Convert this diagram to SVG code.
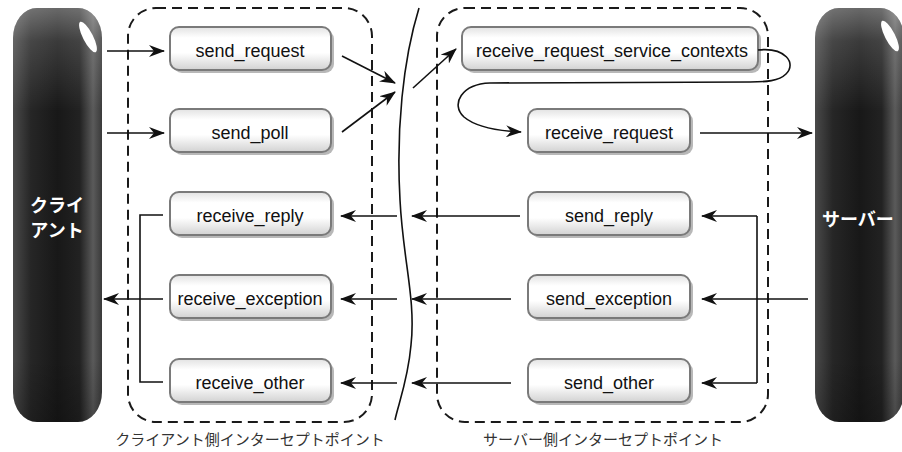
<svg xmlns="http://www.w3.org/2000/svg" width="902" height="452" viewBox="0 0 902 452">
<style>
.node-box{fill:url(#nodeGrad);stroke:#7a7a7a;stroke-width:2}
.node-shadow{fill:#9a9a9a;opacity:0.7}
.node-text{font-family:"Liberation Sans",Arial,sans-serif;font-size:18px;fill:#111;text-anchor:middle}
.dash{fill:none;stroke:#1a1a1a;stroke-width:2;stroke-dasharray:10 6}
.conn{fill:none;stroke:#111;stroke-width:1.6}
.arr{marker-end:url(#ah)}
.cap{font-family:"Liberation Sans","Noto Sans CJK JP",sans-serif;font-size:15px;fill:#333;text-anchor:middle}
.actor-text{font-family:"Liberation Sans","Noto Sans CJK JP",sans-serif;font-size:18px;font-weight:bold;fill:#fff}
</style>
<defs>
<linearGradient id="nodeGrad" x1="0" y1="0" x2="0" y2="1">
<stop offset="0" stop-color="#e2e2e2"/>
<stop offset="0.25" stop-color="#ffffff"/>
<stop offset="0.6" stop-color="#ffffff"/>
<stop offset="1" stop-color="#d2d2d2"/>
</linearGradient>
<linearGradient id="cylH" x1="0" y1="0" x2="1" y2="0">
<stop offset="0" stop-color="#4a4a4a"/>
<stop offset="0.2" stop-color="#262626"/>
<stop offset="0.5" stop-color="#181818"/>
<stop offset="0.75" stop-color="#222"/>
<stop offset="0.9" stop-color="#5a5a5a"/>
<stop offset="1" stop-color="#3a3a3a"/>
</linearGradient>
<linearGradient id="cylV" x1="0" y1="0" x2="0" y2="1">
<stop offset="0" stop-color="#fff" stop-opacity="0.35"/>
<stop offset="0.08" stop-color="#fff" stop-opacity="0.15"/>
<stop offset="0.25" stop-color="#fff" stop-opacity="0"/>
<stop offset="0.85" stop-color="#000" stop-opacity="0"/>
<stop offset="1" stop-color="#000" stop-opacity="0.2"/>
</linearGradient>
<marker id="ah" viewBox="0 0 16 12" refX="15" refY="6" markerWidth="16" markerHeight="12" markerUnits="userSpaceOnUse" orient="auto">
<path d="M0,0 L16,6 L0,12 L5,6 z" fill="#111"/>
</marker>
</defs>

<g id="client">
<rect x="13" y="8" width="89" height="414" rx="24" ry="30" fill="url(#cylH)"/>
<rect x="13" y="8" width="89" height="414" rx="24" ry="30" fill="url(#cylV)"/>
<ellipse cx="88" cy="37" rx="5" ry="17" transform="rotate(-27 88 37)" fill="#fff"/>
<text class="actor-text" x="57" y="212" text-anchor="middle">クライ</text>
<text class="actor-text" x="57" y="237" text-anchor="middle">アント</text>
</g>

<g id="server">
<rect x="815" y="8" width="89" height="414" rx="24" ry="30" fill="url(#cylH)"/>
<rect x="815" y="8" width="89" height="414" rx="24" ry="30" fill="url(#cylV)"/>
<ellipse cx="890" cy="36" rx="5" ry="17" transform="rotate(-27 890 36)" fill="#fff"/>
<text class="actor-text" x="822" y="226">サーバー</text>
</g>

<g id="client-interceptors">
<rect class="dash" x="128" y="8" width="244" height="414" rx="28"/>
<text class="cap" x="250" y="445">クライアント側インターセプトポイント</text>
</g>

<g id="server-interceptors">
<rect class="dash" x="437" y="8" width="331" height="414" rx="28"/>
<text class="cap" x="603" y="445">サーバー側インターセプトポイント</text>
</g>

<g id="boundary">
<path class="conn" d="M419,8 C403,60 396,130 400,200 C403,260 416,300 411,345 C408,380 398,405 395,420"/>
</g>

<g id="send_request">
<rect class="node-shadow" x="173" y="30" width="161" height="43" rx="9"/>
<rect class="node-box" x="170" y="27" width="161" height="43" rx="9"/>
<text class="node-text" x="250" y="57">send_request</text>
</g>
<g id="send_poll">
<rect class="node-shadow" x="173" y="112" width="161" height="43" rx="9"/>
<rect class="node-box" x="170" y="109" width="161" height="43" rx="9"/>
<text class="node-text" x="250" y="139">send_poll</text>
</g>
<g id="receive_reply">
<rect class="node-shadow" x="173" y="195" width="161" height="43" rx="9"/>
<rect class="node-box" x="170" y="192" width="161" height="43" rx="9"/>
<text class="node-text" x="250" y="222">receive_reply</text>
</g>
<g id="receive_exception">
<rect class="node-shadow" x="173" y="278" width="161" height="43" rx="9"/>
<rect class="node-box" x="170" y="275" width="161" height="43" rx="9"/>
<text class="node-text" x="250" y="305">receive_exception</text>
</g>
<g id="receive_other">
<rect class="node-shadow" x="173" y="362" width="161" height="43" rx="9"/>
<rect class="node-box" x="170" y="359" width="161" height="43" rx="9"/>
<text class="node-text" x="250" y="389">receive_other</text>
</g>

<g id="receive_request_service_contexts">
<rect class="node-shadow" x="465" y="30" width="296" height="43" rx="9"/>
<rect class="node-box" x="462" y="27" width="296" height="43" rx="9"/>
<text class="node-text" x="612" y="57">receive_request_service_contexts</text>
</g>
<g id="receive_request">
<rect class="node-shadow" x="531" y="112" width="162" height="43" rx="9"/>
<rect class="node-box" x="528" y="109" width="162" height="43" rx="9"/>
<text class="node-text" x="609" y="139">receive_request</text>
</g>
<g id="send_reply">
<rect class="node-shadow" x="531" y="195" width="162" height="43" rx="9"/>
<rect class="node-box" x="528" y="192" width="162" height="43" rx="9"/>
<text class="node-text" x="609" y="222">send_reply</text>
</g>
<g id="send_exception">
<rect class="node-shadow" x="531" y="278" width="162" height="43" rx="9"/>
<rect class="node-box" x="528" y="275" width="162" height="43" rx="9"/>
<text class="node-text" x="609" y="305">send_exception</text>
</g>
<g id="send_other">
<rect class="node-shadow" x="531" y="362" width="162" height="43" rx="9"/>
<rect class="node-box" x="528" y="359" width="162" height="43" rx="9"/>
<text class="node-text" x="609" y="389">send_other</text>
</g>

<g id="connectors">
<path class="conn arr" d="M107,51 L164,51"/>
<path class="conn arr" d="M107,133 L164,133"/>
<path class="conn arr" d="M342,56 L395,83"/>
<path class="conn arr" d="M342,132 L395,92"/>
<path class="conn arr" d="M413,88 L456,49"/>
<path class="conn arr" d="M758,50 C785,47 797,63 786,74 C779,81 766,82 750,82 L490,83 C462,84 450,104 464,117 C477,128 500,131 521,132"/>
<path class="conn arr" d="M700,133 L812,133"/>
<path class="conn arr" d="M520,216 L412,216"/>
<path class="conn arr" d="M511,299 L412,299"/>
<path class="conn arr" d="M511,383 L412,383"/>
<path class="conn arr" d="M397,216 L341,216"/>
<path class="conn arr" d="M397,299 L341,299"/>
<path class="conn arr" d="M397,383 L341,383"/>
<path class="conn" d="M163,215 L140,215 L140,382 L163,382"/>
<path class="conn arr" d="M163,299 L104,299"/>
<path class="conn arr" d="M757,216 L702,216"/>
<path class="conn" d="M757,216 L757,383"/>
<path class="conn arr" d="M757,383 L702,383"/>
<path class="conn arr" d="M808,299 L702,299"/>
</g>
</svg>
